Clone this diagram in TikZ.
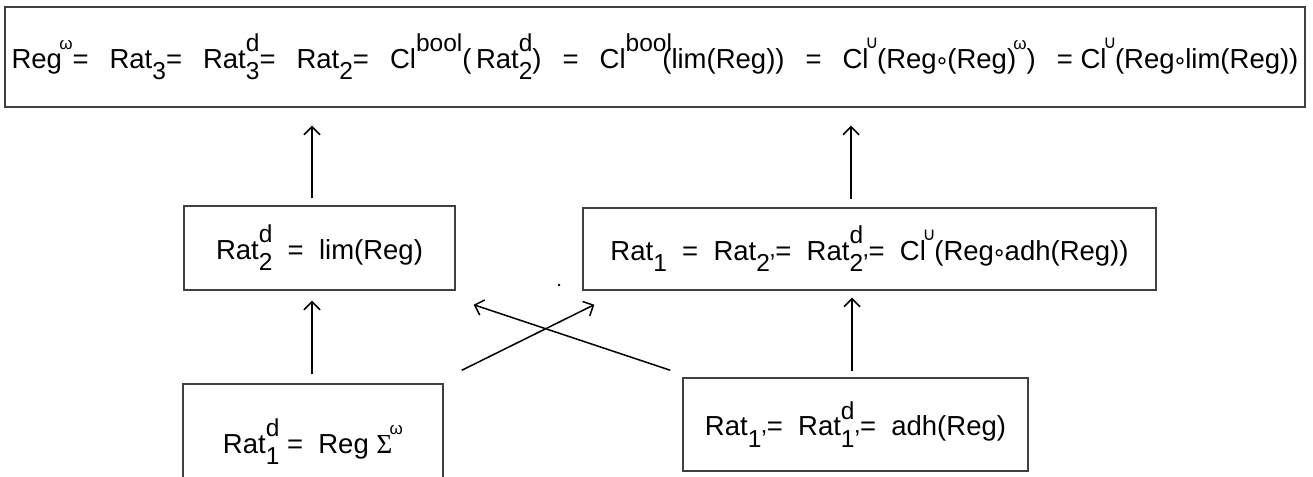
\documentclass[tikz,border=0pt]{standalone}
\usepackage{fontspec}
\setmainfont{Liberation Sans}
\newfontfamily\dejavu{DejaVu Sans}
\newfontfamily\lserif{Liberation Serif}
\usetikzlibrary{arrows.meta,calc}
\newcommand\subsz{\fontsize{24.5}{24.5}\selectfont}
\newcommand\lo[1]{\raisebox{-0.42em}{\subsz #1}}
\newcommand\hi[1]{\raisebox{0.6em}{\subsz #1}}
\newcommand\hilo[2]{\rlap{\hi{#1}}\lo{#2}}
\newcommand\cupsym{\kern-0.12em\raisebox{0.72em}{\dejavu\fontsize{18}{18}\selectfont ∪}\kern-0.05em}
\newcommand\circsym{{\dejavu\fontsize{23}{23}\selectfont\kern-0.08em∘\kern-0.08em}}
\newcommand\om{\kern-0.1em\raisebox{0.68em}{\fontsize{17}{17}\selectfont ω}}
\newcommand\gap{\hspace{21pt}}
\begin{document}
\begin{tikzpicture}[x=1pt,y=-1pt,
  box/.style={draw=black!75,line width=1.4pt,rectangle,inner sep=0pt,
    font=\fontsize{27.5}{27.5}\selectfont},
  arr/.style={line width=1.5pt,-{Straight Barb[length=8pt,width=16pt,line width=1.5pt]}}]
\useasboundingbox (0,0) rectangle (1313,476);
\node[box,minimum width=1300pt,minimum height=100pt] (top) at (655,57)
 {Reg\om=\gap Rat\lo{3}=\gap Rat\hilo{d}{3}=\gap Rat\lo{2}=\gap Cl\hi{bool}(\,Rat\hilo{d}{2})\gap =\gap Cl\hi{bool}\kern-0.35em(lim(Reg))\gap =\gap Cl\cupsym(Reg\circsym(Reg)\om)\gap = Cl\cupsym(Reg\circsym lim(Reg))};
\node[box,minimum width=271pt,minimum height=84pt] (r2d) at (319.5,248)
 {Rat\hilo{d}{2}\ \ =\ \ lim(Reg)};
\node[box,minimum width=573pt,minimum height=82pt] (r1) at (869.5,249)
 {Rat\lo{1}\ \ =\ \ Rat\lo{2'}=\ \ Rat\hilo{d}{2'}=\ \ Cl\cupsym(Reg\circsym adh(Reg))};
\node[box,minimum width=260pt,minimum height=116pt] (r1d) at (313,442)
 {Rat\hilo{d}{1}\ =\ \ Reg {\lserif Σ}\om};
\node[box,minimum width=345pt,minimum height=93pt] (r1p) at (855.5,424.5)
 {Rat\lo{1'}=\ \ Rat\hilo{d}{1'}=\ \ adh(Reg)};
\draw[arr] ($(r2d.north)+(-7.5,-7)$) -- ($(r2d.north |- top.south)+(-7.5,18)$);
\draw[arr] ($(r1.north)+(-18.5,-8)$) -- ($(r1.north |- top.south)+(-18.5,18)$);
\draw[arr] ($(r1d.north)+(-1,-9)$) -- ($(r1d.north |- r2d.south)+(-1,10)$);
\draw[arr] ($(r1p.north)+(-3.5,-6)$) -- ($(r1p.north |- r1.south)+(-3.5,7)$);
\draw[arr] ($(r1d.north east)+(18,-13)$) -- ($(r1.south west)+(12,14)$);
\draw[arr] ($(r1p.north west)+(-12,-7)$) -- ($(r2d.south east)+(18,14)$);
\fill (559,285) circle (1.3pt);
\end{tikzpicture}
\end{document}
